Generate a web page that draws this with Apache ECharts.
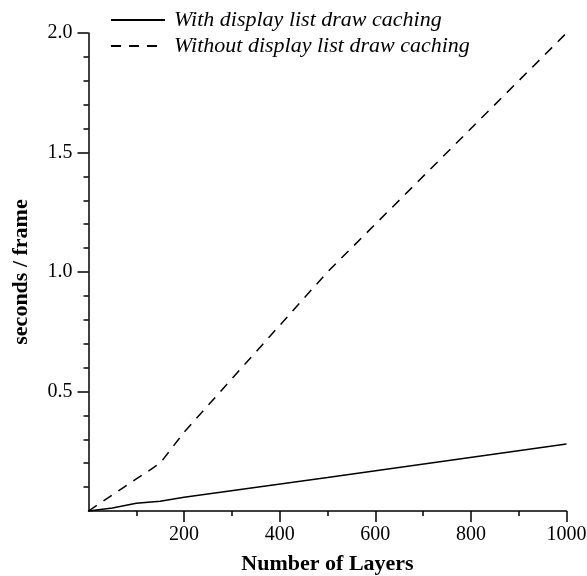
<!DOCTYPE html>
<html>
<head>
<meta charset="utf-8">
<script src="https://cdn.jsdelivr.net/npm/echarts@6/dist/echarts.min.js"></script>
<style>
  html, body { margin: 0; padding: 0; background: #fff; }
  #chart { width: 587px; height: 576px; }
</style>
</head>
<body>
<div id="chart"></div>
<script>
// layer counts and measured seconds per frame
const layers = [0, 50, 100, 150, 200, 500, 1000];
const withCaching = [0, 0.013, 0.032, 0.041, 0.058, 0.14, 0.28];
const withoutCaching = [0, 0.067, 0.134, 0.2, 0.33, 1.0, 2.0];
const seriesNames = ["With display list draw caching", "Without display list draw caching"];
const xTicks = [200, 400, 600, 800, 1000];
const yTicks = [0.5, 1.0, 1.5, 2.0];

const FONT = "Liberation Serif";

function pairs(ys) {
  return layers.map((x, i) => [x, ys[i]]);
}

const chart = echarts.init(document.getElementById("chart"));

const axisLine = { show: true, lineStyle: { color: "#000", width: 1.5 } };

const option = {
  backgroundColor: "#fff",
  animation: false,
  legend: {
    orient: "vertical",
    left: 105,
    top: 4,
    itemWidth: 54,
    itemHeight: 14,
    itemGap: 4,
    itemStyle: { opacity: 0 },
    textStyle: {
      fontFamily: FONT,
      fontStyle: "italic",
      fontSize: 22,
      color: "#000",
      padding: [0, 0, 0, 4],
    },
    data: seriesNames,
  },
  grid: {
    left: 88.5,
    right: 20.5,
    top: 33,
    bottom: 65,
    containLabel: false,
    outerBoundsMode: "none",
  },
  xAxis: {
    type: "value",
    min: 0,
    max: 1000,
    interval: 200,
    name: "Number of Layers",
    nameLocation: "middle",
    nameGap: 42,
    nameTextStyle: {
      fontFamily: FONT,
      fontWeight: "bold",
      fontSize: 22,
      color: "#000",
    },
    axisLine: axisLine,
    axisTick: { show: true, length: 11, customValues: xTicks, lineStyle: { color: "#000", width: 1.5 } },
    minorTick: { show: true, splitNumber: 2, length: 5, lineStyle: { color: "#000", width: 1.5 } },
    splitLine: { show: false },
    axisLabel: {
      margin: 14,
      fontFamily: FONT,
      fontSize: 20,
      color: "#000",
      customValues: xTicks,
      formatter: (v) => String(v),
    },
  },
  yAxis: {
    type: "value",
    min: 0,
    max: 2.0,
    interval: 0.5,
    name: "seconds / frame",
    nameLocation: "middle",
    nameGap: 56,
    nameRotate: 90,
    nameTextStyle: {
      fontFamily: FONT,
      fontWeight: "bold",
      fontSize: 22,
      color: "#000",
    },
    axisLine: axisLine,
    axisTick: { show: true, length: 11, customValues: yTicks, lineStyle: { color: "#000", width: 1.5 } },
    minorTick: { show: true, splitNumber: 5, length: 5, lineStyle: { color: "#000", width: 1.5 } },
    splitLine: { show: false },
    axisLabel: {
      margin: 16,
      fontFamily: FONT,
      fontSize: 20,
      color: "#000",
      customValues: yTicks,
      formatter: (v) => v.toFixed(1),
    },
  },
  series: [
    {
      name: seriesNames[0],
      type: "line",
      data: pairs(withCaching),
      symbol: "none",
      lineStyle: { color: "#000", width: 1.5, type: "solid" },
      itemStyle: { color: "#000" },
    },
    {
      name: seriesNames[1],
      type: "line",
      data: pairs(withoutCaching),
      symbol: "none",
      lineStyle: { color: "#000", width: 1.5, type: [10, 8] },
      itemStyle: { color: "#000" },
    },
  ],
};

chart.setOption(option);
</script>
</body>
</html>
